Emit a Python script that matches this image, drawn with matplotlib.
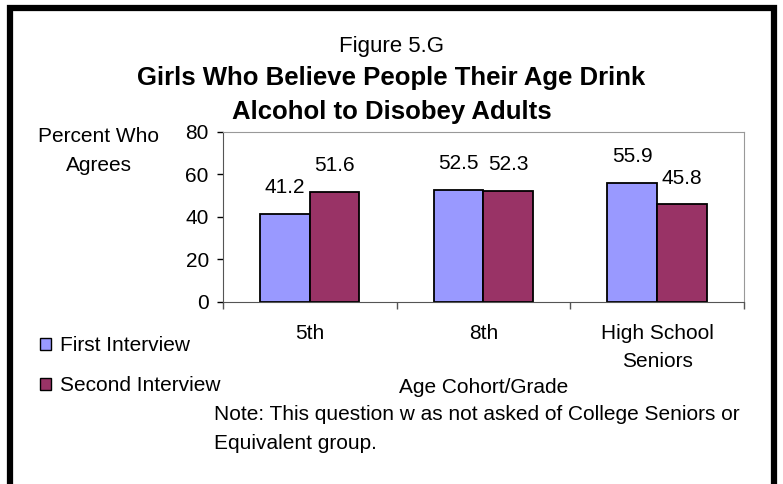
import matplotlib.pyplot as plt
import numpy as np
from matplotlib.lines import Line2D
from matplotlib.patches import Patch

plt.rcParams["font.family"] = ["Liberation Sans", "DejaVu Sans"]

categories = ["5th", "8th", "High School\nSeniors"]
first_interview = [41.2, 52.5, 55.9]
second_interview = [51.6, 52.3, 45.8]
series_names = ["First Interview", "Second Interview"]

BLUE = "#9999FF"
PLUM = "#993366"
FS = 15

fig = plt.figure(figsize=(7.83, 4.84), dpi=100)
ax = fig.add_axes([0.2844, 0.3767, 0.666, 0.3512])

x = np.arange(len(categories))
width = 0.287
b1 = ax.bar(x - width / 2, first_interview, width, color=BLUE,
            edgecolor="black", linewidth=1.3)
b2 = ax.bar(x + width / 2, second_interview, width, color=PLUM,
            edgecolor="black", linewidth=1.3)

for bars in (b1, b2):
    for bar in bars:
        h = bar.get_height()
        ax.annotate(f"{h:.1f}", (bar.get_x() + bar.get_width() / 2, h),
                    xytext=(0, 15), textcoords="offset points",
                    ha="center", va="baseline", fontsize=FS)

ax.set_xlim(-0.5, 2.5)
ax.set_ylim(0, 80)
ax.set_yticks([0, 20, 40, 60, 80])
ax.tick_params(axis="y", labelsize=FS, length=4, width=1, pad=6)
ax.set_xticks(x)
ax.set_xticklabels(categories, fontsize=FS, linespacing=1.6)
ax.tick_params(axis="x", length=0, pad=16)
ax.set_xticks([-0.5, 0.5, 1.5, 2.5], minor=True)
ax.tick_params(axis="x", which="minor", length=5, width=1, color="#555555")
for side in ("top", "right"):
    ax.spines[side].set_color("#999999")
ax.spines["left"].set_color("#555555")
ax.spines["bottom"].set_color("#555555")

fig.text(0.5, 0.903, "Figure 5.G", ha="center", va="center", fontsize=16)
fig.text(0.5, 0.839, "Girls Who Believe People Their Age Drink", ha="center",
         va="center", fontsize=18.5, fontweight="bold")
fig.text(0.5, 0.769, "Alcohol to Disobey Adults", ha="center",
         va="center", fontsize=18.5, fontweight="bold")
fig.text(0.126, 0.688, "Percent Who\nAgrees", ha="center", va="center",
         fontsize=FS, linespacing=1.7)
fig.text(0.618, 0.2, "Age Cohort/Grade", ha="center", va="center", fontsize=FS)
fig.text(0.273, 0.114, "Note: This question w as not asked of College Seniors or\nEquivalent group.",
         ha="left", va="center", fontsize=FS, linespacing=1.7)

handles = [Patch(facecolor=BLUE, edgecolor="black"),
           Patch(facecolor=PLUM, edgecolor="black")]
fig.legend(handles, series_names, loc="upper left", bbox_to_anchor=(0.04, 0.322),
           frameon=False, fontsize=FS, handlelength=0.55, handleheight=0.55,
           handletextpad=0.45, labelspacing=1.0, borderaxespad=0)

# outer frame (open at the bottom)
frame = Line2D([0.0125, 0.0125, 0.9885, 0.9885], [0.0, 0.983, 0.983, 0.0],
               transform=fig.transFigure, color="black", linewidth=4.5,
               solid_joinstyle="miter")
fig.add_artist(frame)

fig.savefig("out.png", dpi=100)
